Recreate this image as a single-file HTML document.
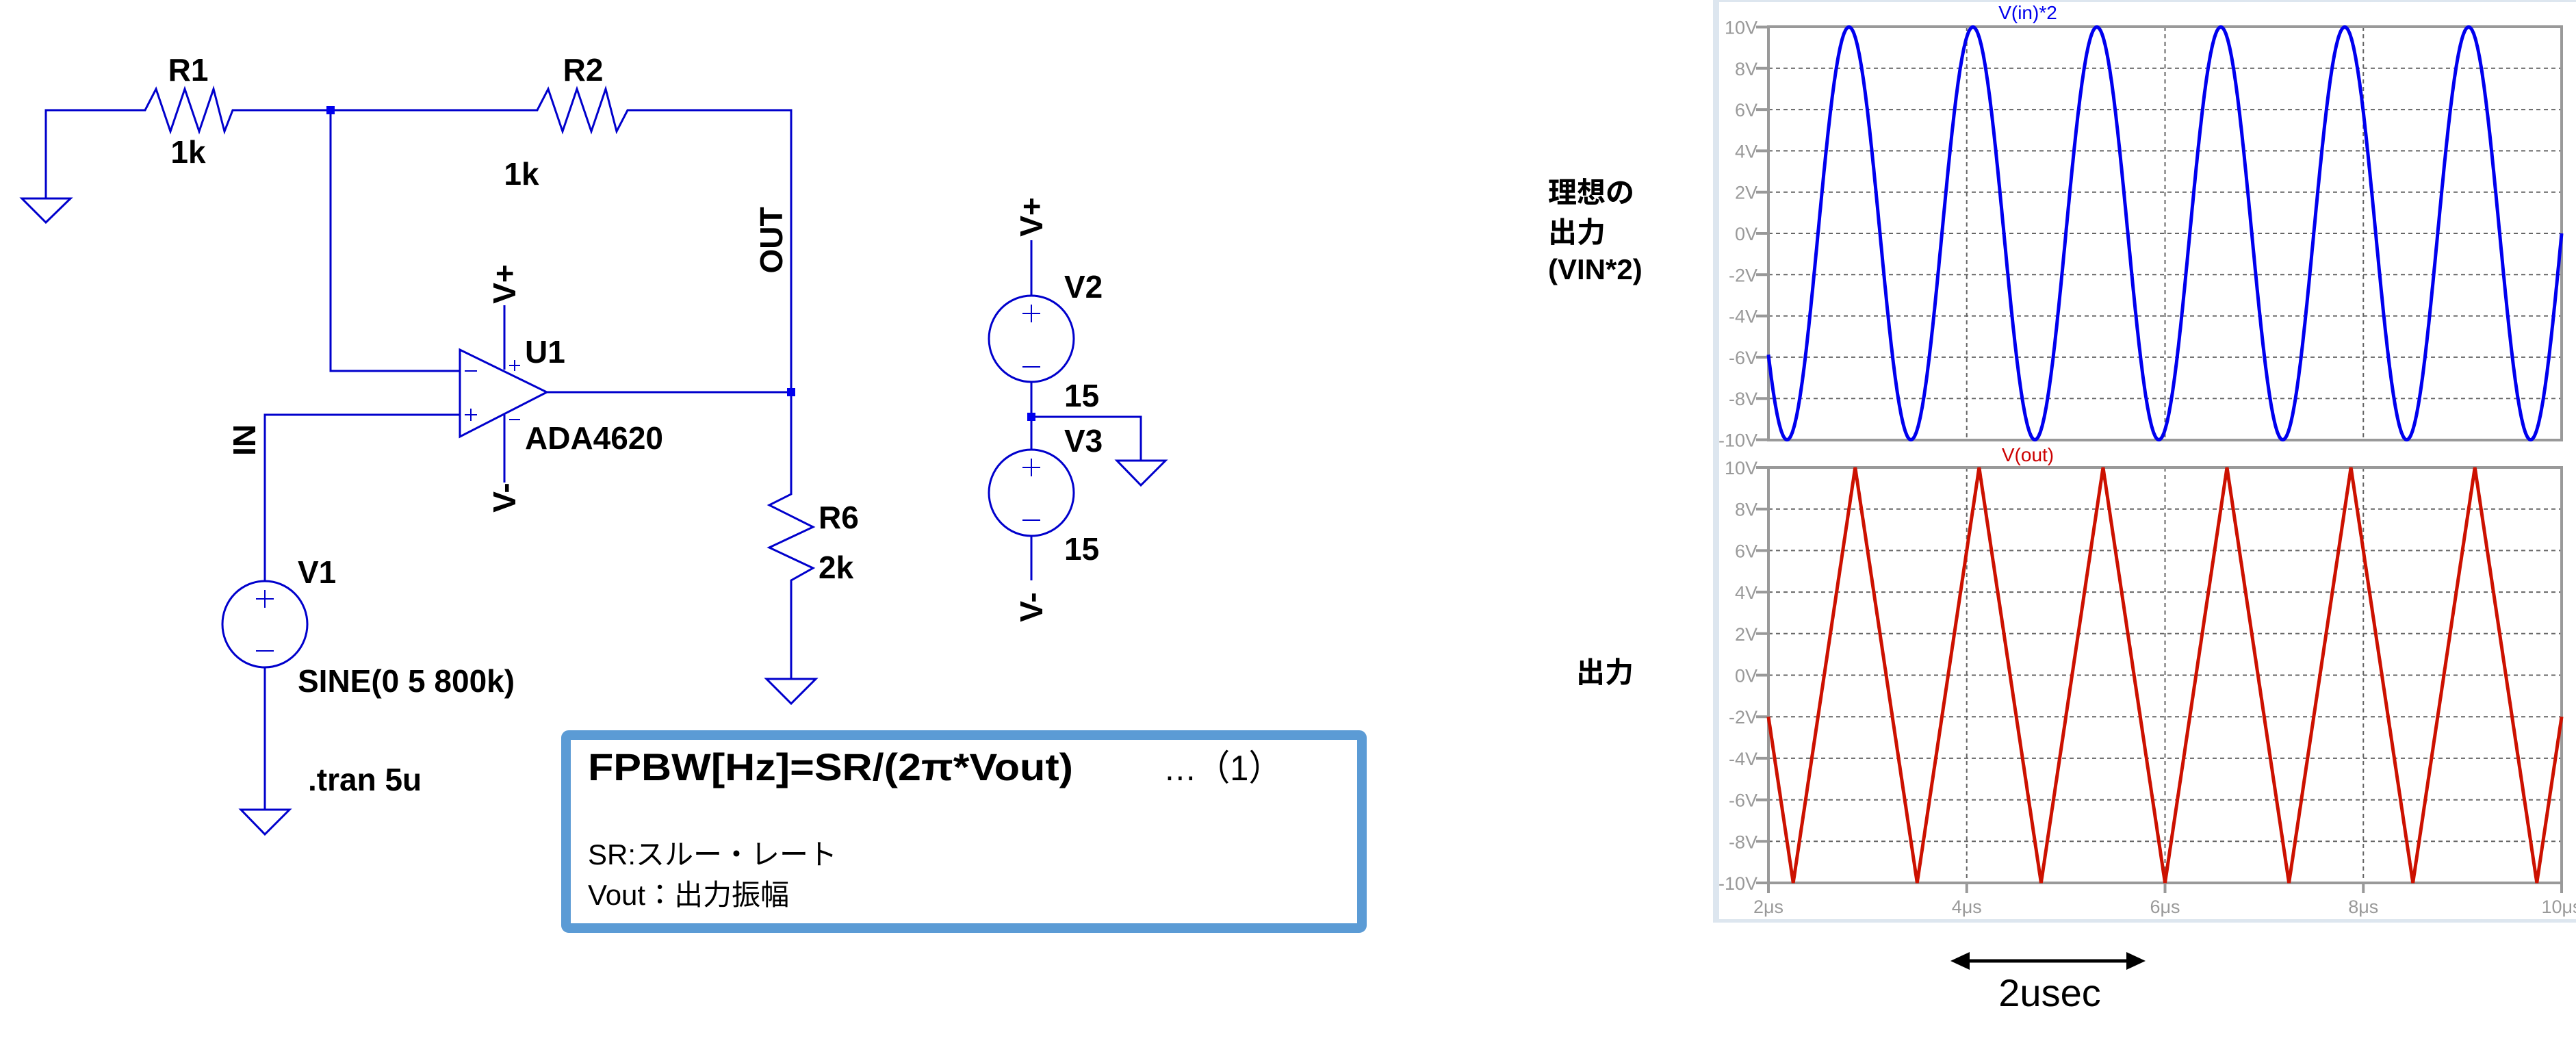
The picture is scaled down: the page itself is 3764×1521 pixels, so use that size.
<!DOCTYPE html>
<html><head><meta charset="utf-8">
<style>
html,body{margin:0;padding:0;background:#fff;}
svg{display:block;}
.sch{font-family:"Liberation Sans","Noto Sans CJK JP",sans-serif;font-weight:bold;font-size:46px;fill:#000;}
.tk{font-family:"Liberation Sans",sans-serif;font-size:27px;fill:#999;}
</style></head><body>
<svg id="s" width="3764" height="1521" viewBox="0 0 3764 1521" xmlns="http://www.w3.org/2000/svg">
<g stroke="#0000cc" stroke-width="3" fill="none">
<polyline points="67,290 67,161 212,161 228,130 249,192 270,130 291,192 312,130 328,192 340,161 483,161 785,161 801,130 822,192 843,130 864,192 885,130 901,192 917,161 1156,161 1156,722 1124,738 1188,770 1124,800 1188,830 1156,848 1156,992"/>
<polygon points="32,290 103,290 67,325"/>
<polyline points="483,161 483,542 672,542"/>
<polygon points="672,511 672,638 799,573"/>
<line x1="799" y1="573" x2="1156" y2="573"/>
<line x1="737" y1="446" x2="737" y2="540"/>
<line x1="737" y1="606" x2="737" y2="705"/>
<polyline points="672,606 387,606 387,849"/>
<ellipse cx="387" cy="912" rx="62" ry="63"/>
<line x1="387" y1="975" x2="387" y2="1183"/>
<polygon points="352,1183 423,1183 387,1219"/>
<polygon points="1120,992 1192,992 1156,1028"/>
<line x1="1507" y1="351" x2="1507" y2="432"/>
<ellipse cx="1507" cy="495" rx="62" ry="63"/>
<line x1="1507" y1="558" x2="1507" y2="657"/>
<ellipse cx="1507" cy="720" rx="62" ry="63"/>
<line x1="1507" y1="783" x2="1507" y2="848"/>
<polyline points="1507,609 1667,609 1667,673"/>
<polygon points="1632,673 1703,673 1667,709"/>
<g stroke-width="2">
<line x1="387" y1="862" x2="387" y2="888"/><line x1="374" y1="875" x2="400" y2="875"/>
<line x1="374" y1="951" x2="400" y2="951"/>
<line x1="1507" y1="445" x2="1507" y2="471"/><line x1="1494" y1="458" x2="1520" y2="458"/>
<line x1="1494" y1="536" x2="1520" y2="536"/>
<line x1="1507" y1="670" x2="1507" y2="696"/><line x1="1494" y1="683" x2="1520" y2="683"/>
<line x1="1494" y1="760" x2="1520" y2="760"/>
<line x1="679" y1="542" x2="697" y2="542"/>
<line x1="679" y1="606" x2="697" y2="606"/><line x1="688" y1="597" x2="688" y2="615"/>
<line x1="744" y1="534" x2="760" y2="534"/><line x1="752" y1="526" x2="752" y2="542"/>
<line x1="744" y1="613" x2="760" y2="613"/>
</g>
</g>
<g fill="#0000ee">
<rect x="477" y="155" width="12" height="12"/>
<rect x="1150" y="567" width="12" height="12"/>
<rect x="1501" y="603" width="12" height="12"/>
</g>
<g class="sch">
<text x="275" y="118" text-anchor="middle">R1</text>
<text x="275" y="238" text-anchor="middle">1k</text>
<text x="852" y="118" text-anchor="middle">R2</text>
<text x="762" y="270" text-anchor="middle">1k</text>
<text transform="translate(1143,351) rotate(-90)" text-anchor="middle">OUT</text>
<text transform="translate(753,415) rotate(-90)" text-anchor="middle">V+</text>
<text transform="translate(753,727) rotate(-90)" text-anchor="middle">V-</text>
<text x="767" y="530">U1</text>
<text x="767" y="656">ADA4620</text>
<text transform="translate(373,643) rotate(-90)" text-anchor="middle">IN</text>
<text x="435" y="852">V1</text>
<text x="435" y="1011">SINE(0 5 800k)</text>
<text x="450" y="1155">.tran 5u</text>
<text x="1196" y="772">R6</text>
<text x="1196" y="845">2k</text>
<text transform="translate(1523,317) rotate(-90)" text-anchor="middle">V+</text>
<text transform="translate(1523,887) rotate(-90)" text-anchor="middle">V-</text>
<text x="1555" y="435">V2</text>
<text x="1555" y="594">15</text>
<text x="1555" y="660">V3</text>
<text x="1555" y="818">15</text>
</g>
<rect x="827" y="1074" width="1163" height="282" fill="none" stroke="#5b9bd5" stroke-width="14" rx="4"/>
<g font-family="'Liberation Sans','Noto Sans CJK JP',sans-serif">
<text x="859" y="1140" font-size="56" font-weight="bold" textLength="709" lengthAdjust="spacingAndGlyphs">FPBW[Hz]=SR/(2π*Vout)</text>
<text x="1700" y="1140" font-size="52" textLength="173" lengthAdjust="spacingAndGlyphs">…（1）</text>
<text x="859" y="1263" font-size="42">SR:スルー・レート</text>
<text x="859" y="1322" font-size="42">Vout：出力振幅</text>
<g font-size="42" font-weight="bold">
<text x="2262" y="296">理想の</text>
<text x="2262" y="354">出力</text>
<text x="2262" y="408">(VIN*2)</text>
<text x="2303" y="997">出力</text>
</g>
<text x="2995" y="1470" font-size="56" text-anchor="middle">2usec</text>
</g>
<line x1="2870" y1="1404" x2="3115" y2="1404" stroke="#000" stroke-width="5"/>
<polygon points="2850,1404 2878,1391 2878,1417" fill="#000"/>
<polygon points="3135,1404 3107,1391 3107,1417" fill="#000"/>
<rect x="2503" y="0" width="1261" height="1348" fill="#dde6ef"/>
<rect x="2512" y="3" width="1252" height="1340" fill="#fff"/>
<g id="grid" stroke="#666" stroke-width="2" stroke-dasharray="6,5" fill="none"></g>
<g id="frames" fill="none" stroke="#999" stroke-width="4">
<rect x="2584" y="39" width="1159" height="604"/>
<rect x="2584" y="683" width="1159" height="607"/>
</g>
<g id="ticks" class="tk"></g>
<text x="2963" y="28" font-family="'Liberation Sans',sans-serif" font-size="28" fill="#0000ee" text-anchor="middle">V(in)*2</text>
<text x="2963" y="674" font-family="'Liberation Sans',sans-serif" font-size="28" fill="#cc0000" text-anchor="middle">V(out)</text>
<polyline id="blue" fill="none" stroke="#0000ee" stroke-width="5"/>
<polyline id="red" fill="none" stroke="#cc1100" stroke-width="5"/>
</svg>
<script>
(function(){
var NS="http://www.w3.org/2000/svg";
function el(p,t,a,txt){var e=document.createElementNS(NS,t);for(var k in a)e.setAttribute(k,a[k]);if(txt!=null)e.textContent=txt;document.getElementById(p).appendChild(e);}
var x0=2584,x1=3743;function X(t){return x0+(t-2)*(x1-x0)/8;}
function Yb(v){return 341-v*30.15;}function Yr(v){return 986.5-v*30.35;}
for(var v=-8;v<=8;v+=2){el("grid","line",{x1:x0,x2:x1,y1:Yb(v),y2:Yb(v)});el("grid","line",{x1:x0,x2:x1,y1:Yr(v),y2:Yr(v)});}
[4,6,8].forEach(function(t){el("grid","line",{x1:X(t),x2:X(t),y1:39,y2:643});el("grid","line",{x1:X(t),x2:X(t),y1:683,y2:1290});});
for(var v=-10;v<=10;v+=2){
 [Yb(v),Yr(v)].forEach(function(y){el("ticks","text",{x:2568,y:y+10,"text-anchor":"end"},v+"V");el("ticks","line",{x1:2566,x2:2584,y1:y,y2:y,stroke:"#999","stroke-width":4});});
}
[2,4,6,8,10].forEach(function(t){el("ticks","text",{x:X(t),y:1334,"text-anchor":"middle"},t+"μs");el("ticks","line",{x1:X(t),x2:X(t),y1:1290,y2:1305,stroke:"#999","stroke-width":4});});
var pb=[],pr=[];
for(var i=0;i<=1600;i++){var t=2+8*i/1600;
 var vb=10*Math.sin(2*Math.PI*0.8*t);pb.push(X(t).toFixed(1)+","+Yb(vb).toFixed(1));
 var p=((t-2.25)/1.25)%1;if(p<0)p+=1;var vr=p<0.5?-10+40*p:30-40*p;pr.push(X(t).toFixed(1)+","+Yr(vr).toFixed(1));}
document.getElementById("blue").setAttribute("points",pb.join(" "));
document.getElementById("red").setAttribute("points",pr.join(" "));
})();
</script>
</body></html>
